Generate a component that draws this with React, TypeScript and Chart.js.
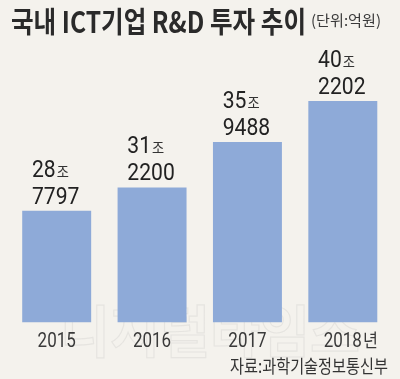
import React, { useEffect, useRef } from "react";
import { Chart, registerables } from "chart.js";
Chart.register(...registerables);

// Data (unit: 억원)
const categories = ["2015", "2016", "2017", "2018"];
const categorySuffix = ["", "", "", "년"];
const values = [287797, 312200, 359488, 402202];
const title = "국내 ICT기업 R&D 투자 추이";
const unitText = "(단위:억원)";
const sourceText = "자료:과학기술정보통신부";
const watermarkText = "디지털타임스";
const trillionSuffix = "조";

const BG = "#f4f2ed";
const BAR = "#8eaad8";
const KR = "'Noto Sans CJK KR', sans-serif";
const NUM = "Roboto, 'Liberation Sans', sans-serif";

function drawText(
  ctx: CanvasRenderingContext2D,
  text: string,
  x: number,
  y: number,
  font: string,
  color: string,
  align: CanvasTextAlign,
  scaleX: number
) {
  ctx.save();
  ctx.font = font;
  ctx.fillStyle = color;
  ctx.textAlign = align;
  ctx.textBaseline = "alphabetic";
  ctx.translate(x, y);
  ctx.scale(scaleX, 1);
  ctx.fillText(text, 0, 0);
  ctx.restore();
}

function measure(ctx: CanvasRenderingContext2D, text: string, font: string) {
  ctx.save();
  ctx.font = font;
  const w = ctx.measureText(text).width;
  ctx.restore();
  return w;
}

const decorPlugin = {
  id: "decor",
  beforeDraw(chart: any) {
    const ctx = chart.ctx as CanvasRenderingContext2D;
    ctx.save();
    ctx.fillStyle = BG;
    ctx.fillRect(0, 0, chart.width, chart.height);
    ctx.restore();
  },
  beforeDatasetsDraw(chart: any) {
    const ctx = chart.ctx as CanvasRenderingContext2D;
    // faint watermark
    const font = `bold 56px ${KR}`;
    const w = measure(ctx, watermarkText, font);
    const sx = 300 / w;
    ctx.save();
    ctx.font = font;
    ctx.translate(60, 352);
    ctx.scale(sx, 1);
    ctx.strokeStyle = "rgba(175,175,175,0.2)";
    ctx.lineWidth = 1.2;
    ctx.strokeText(watermarkText, 0, 0);
    ctx.restore();
  },
  afterDatasetsDraw(chart: any) {
    const ctx = chart.ctx as CanvasRenderingContext2D;
    const meta = chart.getDatasetMeta(0);
    const xScale = chart.scales.x;
    const numFont = `24px ${NUM}`;
    const joFont = `15px ${KR}`;
    const sx = 0.88;
    meta.data.forEach((bar: any, i: number) => {
      const v = values[i];
      const tri = String(Math.floor(v / 10000));
      const rem = String(v % 10000).padStart(4, "0");
      const cx = bar.x;
      const top = bar.y;
      const w2 = measure(ctx, rem, numFont) * sx;
      const left = cx - w2 / 2 - 1;
      drawText(ctx, rem, left, top - 7, numFont, "#222", "left", sx);
      const w1 = measure(ctx, tri, numFont) * sx;
      drawText(ctx, tri, left, top - 34, numFont, "#222", "left", sx);
      drawText(ctx, trillionSuffix, left + w1 + 1, top - 34, joFont, "#333", "left", sx);

      // category label
      const lx = xScale.getPixelForValue(i);
      const catFont = `20px ${NUM}`;
      drawText(ctx, categories[i], lx, 346.5, catFont, "#3a3a3a", "center", 0.85);
      if (categorySuffix[i]) {
        const cw = measure(ctx, categories[i], catFont) * 0.85;
        drawText(ctx, categorySuffix[i], lx + cw / 2 + 1, 346.5, `18px ${KR}`, "#3a3a3a", "left", 0.9);
      }
    });
  },
  afterDraw(chart: any) {
    const ctx = chart.ctx as CanvasRenderingContext2D;
    const tFont = `bold 29px ${KR}`;
    const tw = measure(ctx, title, tFont);
    drawText(ctx, title, 11, 33, tFont, "#2a2a2a", "left", 295 / tw);
    const uFont = `15px ${KR}`;
    const uw = measure(ctx, unitText, uFont);
    drawText(ctx, unitText, 311, 26, uFont, "#3a3a3a", "left", 70 / uw);
    const sFont = `18px ${KR}`;
    const sw = measure(ctx, sourceText, sFont);
    drawText(ctx, sourceText, 388, 373, sFont, "#333", "right", 158 / sw);
  },
};

export default function App() {
  const ref = useRef<HTMLCanvasElement | null>(null);
  useEffect(() => {
    if (!ref.current) return;
    const chart = new Chart(ref.current, {
      type: "bar",
      data: {
        labels: categories,
        datasets: [
          {
            data: values,
            backgroundColor: BAR,
            borderWidth: 0,
            barPercentage: 0.723,
            categoryPercentage: 1,
          },
        ],
      },
      options: {
        animation: false,
        responsive: false,
        devicePixelRatio: 1,
        layout: { padding: { left: 9, right: 9.5, top: 50, bottom: 56.7 } },
        plugins: { legend: { display: false }, tooltip: { enabled: false } },
        scales: {
          x: { display: false },
          y: { display: false, min: 171800, max: 455200 },
        },
      },
      plugins: [decorPlugin],
    });
    return () => chart.destroy();
  }, []);
  return (
    <div style={{ position: "fixed", left: 0, top: 0, width: 400, height: 379, background: BG }}>
      <canvas ref={ref} width={400} height={379} style={{ display: "block" }} />
    </div>
  );
}
